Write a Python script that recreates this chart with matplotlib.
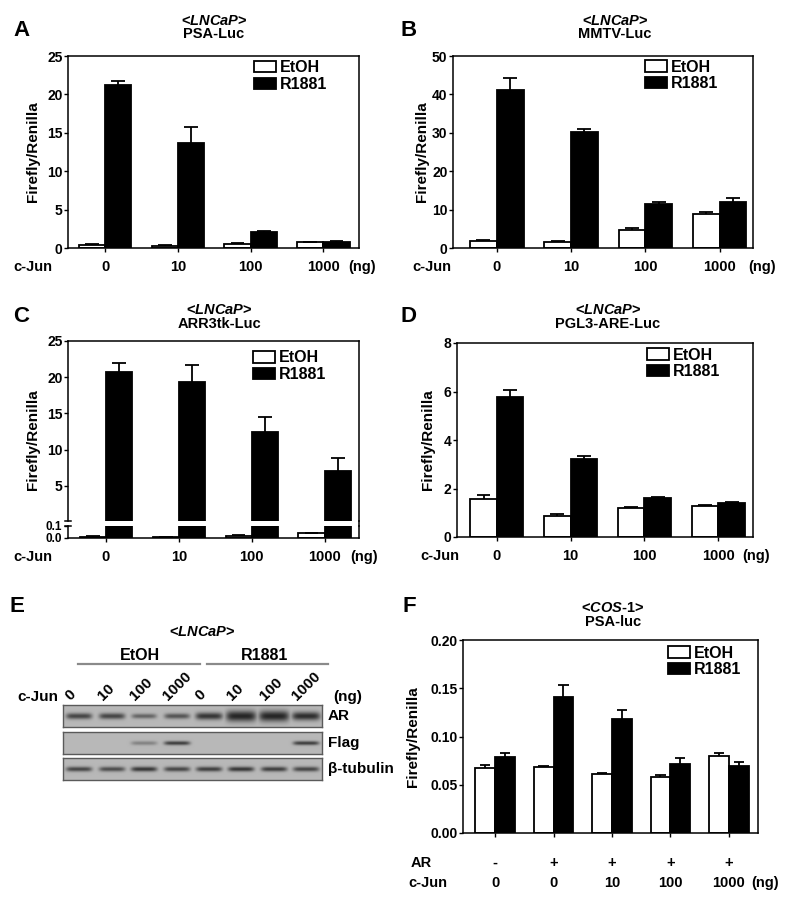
import numpy as np
import matplotlib
matplotlib.use("Agg")
import matplotlib.pyplot as plt
from matplotlib.lines import Line2D

plt.rcParams["font.family"] = ["Liberation Sans", "DejaVu Sans"]
plt.rcParams["font.weight"] = "bold"
plt.rcParams["axes.labelweight"] = "bold"
plt.rcParams["mathtext.fontset"] = "custom"
plt.rcParams["mathtext.rm"] = "Liberation Sans:bold"
plt.rcParams["mathtext.it"] = "Liberation Sans:italic:bold"

# ---- data ----
cjun_doses = ["0", "10", "100", "1000"]

a_etoh = [0.43, 0.30, 0.56, 0.78]
a_etoh_err = [0.05, 0.04, 0.08, 0.04]
a_r1881 = [21.2, 13.7, 2.1, 0.8]
a_r1881_err = [0.6, 2.0, 0.12, 0.05]

b_etoh = [1.7, 1.5, 4.8, 8.8]
b_etoh_err = [0.3, 0.2, 0.5, 0.7]
b_r1881 = [41.2, 30.2, 11.5, 12.1]
b_r1881_err = [3.0, 0.8, 0.6, 1.0]

c_etoh = [0.012, 0.010, 0.020, 0.040]
c_etoh_err = [0.002, 0.002, 0.003, 0.004]
c_r1881 = [20.7, 19.3, 12.4, 7.1]
c_r1881_err = [1.3, 2.4, 2.1, 1.7]

d_etoh = [1.55, 0.87, 1.20, 1.26]
d_etoh_err = [0.18, 0.08, 0.05, 0.08]
d_r1881 = [5.78, 3.20, 1.60, 1.40]
d_r1881_err = [0.30, 0.15, 0.05, 0.05]

f_ar = ["-", "+", "+", "+", "+"]
f_cjun = ["0", "0", "10", "100", "1000"]
f_etoh = [0.067, 0.068, 0.061, 0.058, 0.080]
f_etoh_err = [0.003, 0.001, 0.001, 0.002, 0.003]
f_r1881 = [0.079, 0.141, 0.118, 0.072, 0.069]
f_r1881_err = [0.004, 0.012, 0.009, 0.006, 0.005]

# western blot (panel E), band intensity per lane (EtOH 0..1000, R1881 0..1000)
blot_lanes = ["0", "10", "100", "1000", "0", "10", "100", "1000"]
ar_band = [0.75, 0.75, 0.55, 0.65, 0.85, 0.95, 0.95, 0.9]
ar_thick = [1.0, 1.0, 0.8, 0.9, 1.2, 1.8, 1.8, 1.4]
flag_band = [0.0, 0.0, 0.35, 0.8, 0.0, 0.0, 0.0, 0.8]
tub_band = [0.75, 0.7, 0.85, 0.75, 0.8, 0.85, 0.8, 0.75]

W, H = 800, 908
fig = plt.figure(figsize=(W / 100, H / 100), dpi=100)
fig.patch.set_facecolor("white")

TICK_FS = 10
CAT_FS = 10.5
YLAB_FS = 11
LEG_FS = 11.5
TITLE_FS = 10.5


def px_axes(l, t, r, b):
    return fig.add_axes([l / W, 1 - b / H, (r - l) / W, (b - t) / H])


def ftext(x, y, s, **kw):
    kw.setdefault("ha", "center")
    kw.setdefault("va", "center")
    return fig.text(x / W, 1 - y / H, s, **kw)


def fline(xs, ys, **kw):
    fig.add_artist(Line2D([x / W for x in xs], [1 - y / H for y in ys],
                          transform=fig.transFigure, **kw))


def style(ax, lw=1.1):
    for s in ax.spines.values():
        s.set_linewidth(lw)
    ax.tick_params(direction="out", length=3, width=1, labelsize=TICK_FS, pad=1)


def up_err(ax, xs, vals, errs, cw):
    xs = np.asarray(xs)
    tops = np.asarray(vals) + np.asarray(errs)
    ax.vlines(xs, vals, tops, colors="black", linewidth=1.3, zorder=3)
    ax.hlines(tops, xs - cw, xs + cw, colors="black", linewidth=1.3, zorder=3)


def draw_bars(ax, etoh, etoh_err, r1881, r1881_err, bw):
    x = np.arange(len(etoh))
    ax.bar(x - bw / 2, etoh, bw, color="white", edgecolor="black",
           linewidth=1.3, label="EtOH", zorder=2)
    ax.bar(x + bw / 2, r1881, bw, color="black", edgecolor="black",
           linewidth=1.3, label="R1881", zorder=2)
    up_err(ax, x - bw / 2, etoh, etoh_err, 0.26 * bw)
    up_err(ax, x + bw / 2, r1881, r1881_err, 0.26 * bw)
    return x


def add_legend(ax, hx, hy):
    ax.legend(loc="upper left", bbox_to_anchor=(hx / W, 1 - (hy - 9.5) / H),
              bbox_transform=fig.transFigure, frameon=False, fontsize=LEG_FS,
              borderpad=0, borderaxespad=0, handlelength=1.4, handleheight=0.7,
              handletextpad=0.25, labelspacing=0.12)


def cat_labels(ax, x, labels, dy=19, size=CAT_FS):
    for xi, lab in zip(x, labels):
        ax.annotate(lab, xy=(xi, 0), xycoords=ax.get_xaxis_transform(),
                    xytext=(0, -dy), textcoords="offset pixels",
                    ha="center", va="center", fontsize=size)


def lncap_title(x, y, sub):
    ftext(x, y, r"<$\mathit{LNCaP}$>", fontsize=TITLE_FS)
    ftext(x, y + 13.5, sub, fontsize=TITLE_FS)


def simple_panel(box, etoh, etoh_err, r1881, r1881_err, xlim, ylim, yticks,
                 leg, ylab_x, cjun_x, ng_x):
    l, t, r, b = box
    ax = px_axes(l, t, r, b)
    x = draw_bars(ax, etoh, etoh_err, r1881, r1881_err, 0.36)
    ax.set_xlim(*xlim)
    ax.set_ylim(*ylim)
    ax.set_yticks(yticks)
    ax.set_xticks(x, [""] * len(x))
    style(ax)
    cat_labels(ax, x, cjun_doses)
    add_legend(ax, *leg)
    ftext(ylab_x, (t + b) / 2, "Firefly/Renilla", rotation=90, fontsize=YLAB_FS)
    ftext(cjun_x, b + 19, "c-Jun", fontsize=CAT_FS)
    ftext(ng_x, b + 19, "(ng)", fontsize=CAT_FS)
    return ax


# ---- panel A ----
simple_panel((68, 56, 359, 248), a_etoh, a_etoh_err, a_r1881, a_r1881_err,
             (-0.51, 3.49), (0, 25), [0, 5, 10, 15, 20, 25], (254, 69.5),
             33, 33, 362)
lncap_title(214, 21, "PSA-Luc")
ftext(21, 31, "A", fontsize=16)

# ---- panel B ----
simple_panel((453, 56, 753, 248), b_etoh, b_etoh_err, b_r1881, b_r1881_err,
             (-0.59, 3.45), (0, 50), [0, 10, 20, 30, 40, 50], (645, 69),
             422, 432, 762)
lncap_title(615, 21, "MMTV-Luc")
ftext(409, 31, "B", fontsize=16)

# ---- panel C (broken y axis) ----
cl, ct, cr, cb = 68, 341, 359, 538
c_xlim = (-0.52, 3.47)
ax_cu = px_axes(cl, ct, cr, 521)
x = draw_bars(ax_cu, c_etoh, c_etoh_err, c_r1881, c_r1881_err, 0.36)
ax_cu.set_xlim(*c_xlim)
ax_cu.set_ylim(0.17, 25)
ax_cu.set_yticks([5, 10, 15, 20, 25])
ax_cu.set_xticks([])
ax_cu.spines["bottom"].set_visible(False)
style(ax_cu)
add_legend(ax_cu, 253, 360)

ax_cl = px_axes(cl, 526, cr, cb)
draw_bars(ax_cl, c_etoh, c_etoh_err, c_r1881, c_r1881_err, 0.36)
ax_cl.set_xlim(*c_xlim)
ax_cl.set_ylim(0, 0.1)
ax_cl.set_yticks([0.0, 0.1], ["0.0", "0.1"])
ax_cl.set_xticks(x, [""] * len(x))
ax_cl.spines["top"].set_visible(False)
style(ax_cl)
ax_cl.tick_params(axis="y", labelsize=8.5)
cat_labels(ax_cl, x, cjun_doses)
fline([cr, cr], [521, 526], color="black", linewidth=1.1)
fline([cl - 3, cl + 3], [521, 521], color="black", linewidth=1.1)
fline([cl - 3, cl + 3], [525.5, 525.5], color="black", linewidth=1.1)
ftext(33, 440, "Firefly/Renilla", rotation=90, fontsize=YLAB_FS)
ftext(33, cb + 19, "c-Jun", fontsize=CAT_FS)
ftext(364, cb + 19, "(ng)", fontsize=CAT_FS)
lncap_title(219, 310, "ARR3tk-Luc")
ftext(21, 316, "C", fontsize=16)

# ---- panel D ----
simple_panel((457, 343, 753, 537), d_etoh, d_etoh_err, d_r1881, d_r1881_err,
             (-0.54, 3.47), (0, 8), [0, 2, 4, 6, 8], (647, 357),
             428, 440, 756)
lncap_title(608, 310, "PGL3-ARE-Luc")
ftext(409, 316, "D", fontsize=16)

# ---- panel E (western blot) ----
ftext(17, 607, "E", fontsize=16)
ftext(202, 632, r"<$\mathit{LNCaP}$>", fontsize=10.5)
ftext(140, 655, "EtOH", fontsize=11.5)
ftext(265, 655, "R1881", fontsize=11.5)
fline([78, 200], [664, 664], color="#8a8a8a", linewidth=1.6)
fline([207, 328], [664, 664], color="#8a8a8a", linewidth=1.6)
ftext(38, 697, "c-Jun", fontsize=11)
ftext(348, 697, "(ng)", fontsize=11)

lane_x = [79, 112, 144, 177, 209, 241, 274, 306]
for lx, lab in zip(lane_x, blot_lanes):
    ftext(lx - 7, 703, lab, fontsize=11, rotation=45,
          rotation_mode="anchor", ha="left", va="bottom")

blot_l, blot_r = 63, 322
strips = [
    ("AR", 705, 727, ar_band, ar_thick, 13, 3.0),
    ("Flag", 732, 754, flag_band, [1.0] * 8, 13, 2.0),
    ("β-tubulin", 758, 780, tub_band, [1.0] * 8, 13, 2.4),
]
bg, dark = 0.72, 0.12
for name, st, sb, band, thick, half_w, sig in strips:
    ax = px_axes(blot_l, st, blot_r, sb)
    ww, hh = (blot_r - blot_l) * 4, (sb - st) * 4
    xx = np.arange(ww)[None, :] / 4.0
    yy = np.arange(hh)[:, None] / 4.0
    cy = (sb - st) / 2
    shade = np.zeros((hh, ww))
    for lx, inten, th in zip(lane_x, band, thick):
        cx = lx - blot_l
        hw = half_w * (1 + 0.2 * (th - 1))
        prof = np.exp(-((xx - cx) / hw) ** 6) * np.exp(-((yy - cy) / (sig * th)) ** 2)
        shade = np.maximum(shade, inten * prof)
    img = bg - shade * (bg - dark)
    ax.imshow(img, cmap="gray", vmin=0, vmax=1, aspect="auto",
              interpolation="bilinear")
    ax.set_xticks([])
    ax.set_yticks([])
    for s in ax.spines.values():
        s.set_color("#5a5a5a")
        s.set_linewidth(1.0)
    ftext(328, (st + sb) / 2, name, fontsize=11, ha="left")

# ---- panel F ----
fl, ft, fr, fb = 463, 640, 758, 833
ax_f = px_axes(fl, ft, fr, fb)
xf = draw_bars(ax_f, f_etoh, f_etoh_err, f_r1881, f_r1881_err, 0.34)
ax_f.set_xlim(-0.55, 4.5)
ax_f.set_ylim(0, 0.20)
ax_f.set_yticks([0.0, 0.05, 0.10, 0.15, 0.20],
                ["0.00", "0.05", "0.10", "0.15", "0.20"])
ax_f.set_xticks(xf, [""] * len(xf))
style(ax_f)
add_legend(ax_f, 668, 655)
cat_labels(ax_f, xf, f_ar, dy=30)
cat_labels(ax_f, xf, f_cjun, dy=50)
ftext(421, fb + 30, "AR", fontsize=CAT_FS)
ftext(428, fb + 50, "c-Jun", fontsize=CAT_FS)
ftext(765, fb + 50, "(ng)", fontsize=CAT_FS)
ftext(413, 737, "Firefly/Renilla", rotation=90, fontsize=YLAB_FS)
ftext(613, 608, r"<$\mathit{COS}$-$\mathit{1}$>", fontsize=TITLE_FS)
ftext(613, 621.5, "PSA-luc", fontsize=TITLE_FS)
ftext(409, 607, "F", fontsize=16)

fig.savefig("out.png", dpi=100)
